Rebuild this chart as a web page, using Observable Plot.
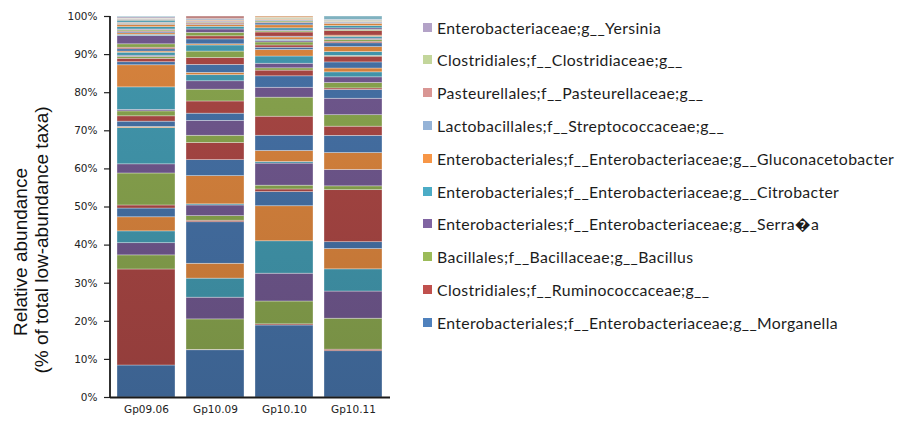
<!DOCTYPE html>
<html>
<head>
<meta charset="utf-8">
<script src="https://cdn.jsdelivr.net/npm/d3@7"></script>
<script src="https://cdn.jsdelivr.net/npm/@observablehq/plot@0.6"></script>
<style>
  html, body { margin: 0; padding: 0; background: #ffffff; }
  #wrap { position: relative; width: 898px; height: 422px; overflow: hidden; }
  #legend { position: absolute; left: 423px; top: 0; font-family: Lato, "Open Sans", sans-serif; font-size: 15.8px; letter-spacing: 0.35px; color: #1c1c1c; }
  .item { position: absolute; left: 0; white-space: nowrap; display: flex; align-items: center; height: 18px; }
  .sw { width: 9px; height: 9px; margin-right: 5px; flex: none; }
</style>
</head>
<body>
<div id="wrap"><div id="chart"></div><div id="legend"></div></div>
<script>
// ---- data ----
const groups = ["Gp09.06", "Gp10.09", "Gp10.10", "Gp10.11"];

const taxa = [
  "Enterobacteriales;f__Enterobacteriaceae;g__Morganella",
  "Clostridiales;f__Ruminococcaceae;g__",
  "Bacillales;f__Bacillaceae;g__Bacillus",
  "Enterobacteriales;f__Enterobacteriaceae;g__Serra\uFFFDa",
  "Enterobacteriales;f__Enterobacteriaceae;g__Citrobacter",
  "Enterobacteriales;f__Enterobacteriaceae;g__Gluconacetobacter",
  "taxon 7", "taxon 8", "taxon 9", "taxon 10", "taxon 11", "taxon 12",
  "taxon 13", "taxon 14", "taxon 15", "taxon 16", "taxon 17", "taxon 18",
  "taxon 19", "taxon 20", "taxon 21", "taxon 22", "taxon 23", "taxon 24",
  "taxon 25", "taxon 26", "taxon 27", "taxon 28", "taxon 29", "taxon 30",
  "taxon 31", "taxon 32", "taxon 33", "taxon 34", "taxon 35", "taxon 36",
  "taxon 37", "taxon 38", "taxon 39", "taxon 40", "taxon 41", "taxon 42",
  "Lactobacillales;f__Streptococcaceae;g__",
  "Pasteurellales;f__Pasteurellaceae;g__",
  "Clostridiales;f__Clostridiaceae;g__",
  "Enterobacteriaceae;g__Yersinia",
  "taxon 47", "taxon 48"
];

// relative abundance (%) per taxon, bottom to top of each bar
const gp0906 = [
  8.4, 25.2, 3.7, 3.2, 3.1, 3.7,
  2.3, 0.8, 8.4, 2.4, 9.5, 0.3,
  1.4, 1.4, 1.3, 0.4, 5.9, 5.8,
  0.8, 0.9, 0.5, 0.3, 0.8, 0.3,
  0.6, 0.4, 0.9, 2.2, 0.3, 0.4,
  0.3, 0.2, 0.3, 0.2, 0.6, 0.6,
  0.2, 0.1, 0.2, 0.1, 0.5, 0.2,
  0.2, 0.1, 0.1, 0.3, 0.2, 0.0
];
const gp1009 = [
  12.4, 0.1, 8.0, 5.7, 5.0, 3.9,
  10.9, 0.4, 1.2, 2.8, 0.3, 7.4,
  4.2, 4.5, 1.9, 3.9, 0.0, 0.0,
  1.9, 3.2, 3.1, 2.2, 1.6, 0.6,
  2.1, 1.8, 1.7, 0.0, 1.6, 0.3,
  1.3, 0.8, 0.9, 0.9, 0.7, 0.5,
  0.2, 0.3, 0.2, 0.2, 0.1, 0.2,
  0.3, 0.7, 0.0, 0.0, 0.0, 0.0
];
const gp1010 = [
  18.9, 0.3, 6.0, 7.3, 8.5, 9.2,
  3.7, 0.7, 1.0, 5.8, 0.4, 2.9,
  4.0, 5.0, 5.0, 2.6, 0.0, 0.0,
  3.0, 1.5, 0.6, 1.2, 1.9, 1.7,
  0.6, 0.6, 0.8, 0.4, 0.3, 0.6,
  0.2, 1.1, 0.3, 0.2, 0.6, 0.8,
  0.5, 0.2, 0.3, 0.2, 0.1, 0.2,
  0.1, 0.0, 0.3, 0.0, 0.0, 0.4
];
const gp1011 = [
  12.1, 0.4, 8.1, 7.1, 5.8, 5.3,
  1.8, 13.6, 1.0, 4.3, 0.0, 4.4,
  4.5, 2.4, 3.0, 4.3, 0.0, 0.0,
  2.3, 0.4, 1.4, 1.5, 1.3, 1.0,
  1.6, 1.5, 0.2, 0.0, 1.0, 1.3,
  1.0, 0.4, 0.5, 0.3, 0.5, 0.3,
  0.0, 1.2, 0.3, 0.4, 0.6, 0.6,
  0.3, 0.2, 0.3, 0.2, 0.9, 0.0
];
const groupValues = [gp0906, gp1009, gp1010, gp1011];

// legend entries (taxon indices), top to bottom
const legendOrder = [45, 44, 43, 42, 5, 4, 3, 2, 1, 0];

// colours
const baseColors = ["#4F81BD", "#C0504D", "#9BBB59", "#8064A2", "#4BACC6", "#F79646"];
const lightColors = ["#95B3D7", "#D99694", "#C3D69B", "#B3A2C7", "#93CDDD", "#FAC090"];
const colorOf = i => (i < 42 ? baseColors[i % 6] : lightColors[i - 42]);

const yTicks = [0, 0.1, 0.2, 0.3, 0.4, 0.5, 0.6, 0.7, 0.8, 0.9, 1];

// ---- build table ----
const rows = [];
groups.forEach((g, gi) => groupValues[gi].forEach((v, si) => rows.push({group: g, taxon: si, value: v})));

const W = 898, H = 422, ML = 110, MR = 508, MT = 16, MB = 25;
const gradId = c => "grad" + c.slice(1);

const chart = Plot.plot({
  width: W, height: H,
  marginLeft: ML, marginRight: MR, marginTop: MT, marginBottom: MB,
  style: {fontFamily: "DejaVu Sans, sans-serif", fontSize: "10.5px", color: "#222"},
  x: {domain: groups, paddingInner: 0.157, paddingOuter: 0.086, label: null},
  y: {domain: [0, 1], label: null},
  color: {type: "identity"},
  marks: [
    Plot.barY(rows, Plot.stackY({offset: "normalize", order: null}, {
      x: "group", y: "value", z: "taxon",
      fill: d => `url(#${gradId(colorOf(d.taxon))})`,
      stroke: "#ffffff", strokeOpacity: 0.45, strokeWidth: 0.7
    })),
    Plot.axisY({ticks: yTicks, tickFormat: d3.format(".0%"), tickSize: 6, tickPadding: 7, stroke: "#222", strokeWidth: 1.2, label: null}),
    Plot.axisX({tickSize: 0, tickPadding: 8, label: null}),
    Plot.ruleY([0], {stroke: "#1a1a1a", strokeWidth: 1.8})
  ]
});

// gradients giving the Excel-like shading of the columns
const svg = d3.select(chart);
const yScale = chart.scale("y");
const [yBottom, yTop] = yScale.range;
const defs = svg.insert("defs", ":first-child");
const allColors = Array.from(new Set(taxa.map((_, i) => colorOf(i))));
for (const c of allColors) {
  const col = d3.rgb(c);
  const g = defs.append("linearGradient").attr("id", gradId(c))
    .attr("gradientUnits", "userSpaceOnUse")
    .attr("x1", 0).attr("x2", 0).attr("y1", yTop).attr("y2", yBottom);
  const top = d3.rgb(col.r * 0.87, col.g * 0.87, col.b * 0.87);
  const bot = d3.rgb(col.r * 0.76, col.g * 0.76, col.b * 0.76);
  g.append("stop").attr("offset", 0).attr("stop-color", top.formatHex());
  g.append("stop").attr("offset", 1).attr("stop-color", bot.formatHex());
}

// vertical axis line
svg.append("line")
  .attr("x1", ML).attr("x2", ML).attr("y1", yTop).attr("y2", yBottom + 1)
  .attr("stroke", "#1a1a1a").attr("stroke-width", 1.8);

// y-axis title (two lines)
const titleLines = ["Relative abundance", "(% of total low-abundance taxa)"];
const titleMid = [252, 240];
titleLines.forEach((t, i) => {
  svg.append("text")
    .attr("transform", `translate(${27 + i * 21},${titleMid[i]}) rotate(-90)`)
    .attr("text-anchor", "middle")
    .attr("font-family", "Liberation Sans, Arial, sans-serif")
    .attr("font-size", 19)
    .attr("fill", "#111")
    .text(t);
});

document.getElementById("chart").appendChild(chart);

// legend
const legend = d3.select("#legend");
legendOrder.forEach((ti, k) => {
  const item = legend.append("div").attr("class", "item").style("top", (18 + k * 32.8) + "px");
  item.append("div").attr("class", "sw").style("background", colorOf(ti));
  item.append("span").text(taxa[ti]);
});
</script>
</body>
</html>
